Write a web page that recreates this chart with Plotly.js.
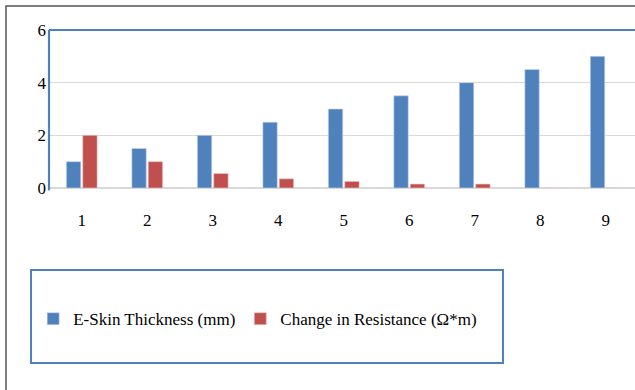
<!DOCTYPE html>
<html>
<head>
<meta charset="utf-8">
<script src="https://cdn.plot.ly/plotly-3.0.1.min.js"></script>
<style>html,body{margin:0;padding:0;background:#fff;}#chart{width:635px;height:390px;}</style>
</head>
<body>
<div id="chart"></div>
<script>
var categories = ["1","2","3","4","5","6","7","8","9"];
var thickness = [1, 1.5, 2, 2.5, 3, 3.5, 4, 4.5, 5];
var resistance = [2, 1, 0.55, 0.35, 0.25, 0.15, 0.15, 0, 0];
var yTicks = [0, 2, 4, 6];
var seriesNames = ["E-Skin Thickness (mm)", "Change in Resistance (\u03A9*m)"];

var font = {family: "Liberation Serif", size: 17, color: "#000"};
var blue = "#4f81bd", red = "#c0504d";

var traces = [
  {type: "bar", x: categories, y: thickness, name: seriesNames[0], marker: {color: blue, line: {color: "#c9d7ea", width: 0.6}}},
  {type: "bar", x: categories, y: resistance, name: seriesNames[1], marker: {color: red, line: {color: "#ecc7c6", width: 0.6}}}
];

var layout = {
  width: 635, height: 390,
  margin: {l: 49, r: 0, t: 30, b: 202},
  paper_bgcolor: "#fff", plot_bgcolor: "#fff",
  font: font,
  barmode: "group", bargap: 0.5, bargroupgap: 0.12,
  showlegend: true,
  legend: {orientation: "h", x: -0.027, xanchor: "left", y: -0.83, yanchor: "middle", font: font, bgcolor: "rgba(0,0,0,0)", traceorder: "normal", itemclick: false},
  xaxis: {type: "category", range: [-0.5, 8.447], showgrid: false, zeroline: false, showline: false, ticks: "", tickfont: font, ticklabelstandoff: 20, fixedrange: true},
  yaxis: {range: [0, 6], tickvals: yTicks, ticktext: yTicks.map(String), showgrid: true, gridcolor: "#d9d9d9", gridwidth: 1.5, zeroline: true, zerolinecolor: "#d9d9d9", zerolinewidth: 1.5, showline: false, ticks: "", tickfont: font, ticklabelstandoff: 2, fixedrange: true},
  shapes: [
    {type: "rect", xref: "paper", yref: "paper", x0: -0.0734, x1: 1.05, y0: -1.6, y1: 1.152, line: {color: "#555", width: 1.5}, fillcolor: "rgba(0,0,0,0)", layer: "below"},
    {type: "line", xref: "paper", yref: "paper", x0: 0, x1: 1.01, y0: 1, y1: 1, line: {color: blue, width: 2.2}},
    {type: "line", xref: "paper", yref: "paper", x0: 0, x1: 0, y0: -0.015, y1: 1, line: {color: blue, width: 2.2}},
    {type: "rect", xref: "paper", yref: "paper", x0: -0.0307, x1: 0.7747, y0: -1.1076, y1: -0.519, line: {color: blue, width: 2}, fillcolor: "rgba(0,0,0,0)"}
  ]
};

Plotly.newPlot("chart", traces, layout, {displayModeBar: false, staticPlot: true});
</script>
</body>
</html>
